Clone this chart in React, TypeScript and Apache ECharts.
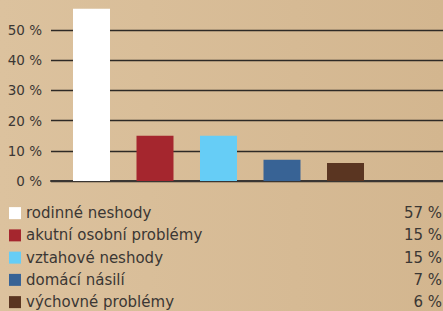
import React, { useEffect, useRef } from "react";
import * as echarts from "echarts";

const categories = [
  "rodinné neshody",
  "akutní osobní problémy",
  "vztahové neshody",
  "domácí násilí",
  "výchovné problémy",
];
const values = [57, 15, 15, 7, 6];
const colors = ["#ffffff", "#a5262e", "#66cdf6", "#386395", "#5a3521"];
const yMin = 0;
const yMax = 50;
const yStep = 10;

const FONT = "DejaVu Sans";
const TEXT = "#3b3734";

export default function App() {
  const ref = useRef<HTMLDivElement>(null);
  useEffect(() => {
    if (!ref.current) return;
    const chart = echarts.init(ref.current, undefined, { renderer: "svg" });
    const series = categories.map((name, i) => ({
      name,
      type: "bar",
      stack: "all",
      xAxisIndex: 1,
      yAxisIndex: 1,
      barWidth: 37,
      clip: false,
      itemStyle: { color: colors[i] },
      data: categories.map((_, j) => (j === i ? values[i] : null)),
    }));
    chart.setOption({
      animation: false,
      backgroundColor: {
        type: "linear",
        x: 0,
        y: 0,
        x2: 1,
        y2: 0,
        colorStops: [
          { offset: 0, color: "#dcc29e" },
          { offset: 1, color: "#d3b68f" },
        ],
      },
      grid: [
        { left: 51, right: 0, top: 30, height: 151, containLabel: false },
        { left: 59.75, width: 317.5, top: 30, height: 151, containLabel: false },
      ],
      xAxis: [
        {
          gridIndex: 0,
          type: "value",
          min: 0,
          max: 1,
          axisLabel: { show: false },
          axisTick: { show: false },
          splitLine: { show: false },
          axisLine: { show: true, lineStyle: { color: "#3a3633", width: 2 } },
        },
        {
          gridIndex: 1,
          type: "category",
          data: categories,
          show: false,
        },
      ],
      yAxis: [
        {
          gridIndex: 0,
          type: "value",
          min: yMin,
          max: yMax,
          interval: yStep,
          axisLine: { show: false },
          axisTick: { show: false },
          axisLabel: {
            formatter: "{value} %",
            margin: 9,
            color: TEXT,
            fontFamily: FONT,
            fontSize: 13.5,
          },
          splitLine: { show: true, lineStyle: { color: "#2e2a26", width: 1.3 } },
        },
        {
          gridIndex: 1,
          type: "value",
          min: yMin,
          max: yMax,
          show: false,
        },
      ],
      legend: {
        orient: "vertical",
        left: 9,
        top: 202,
        height: 130,
        padding: 0,
        itemGap: 0,
        itemWidth: 12,
        itemHeight: 12,
        icon: "rect",
        data: categories,
        formatter: (name: string) => {
          const i = categories.indexOf(name);
          return `{n|${name}}{v|${values[i]} %}`;
        },
        textStyle: {
          color: TEXT,
          fontFamily: FONT,
          fontSize: 15,
          rich: {
            n: { width: 376, height: 22.25, lineHeight: 22.25, color: TEXT, fontFamily: FONT, fontSize: 15 },
            v: { width: 40, align: "right", height: 22.25, lineHeight: 22.25, color: TEXT, fontFamily: FONT, fontSize: 15 },
          },
        },
      },
      series,
    });
    return () => chart.dispose();
  }, []);
  return <div ref={ref} style={{ width: 443, height: 311, position: "absolute", left: 0, top: 0 }} />;
}
